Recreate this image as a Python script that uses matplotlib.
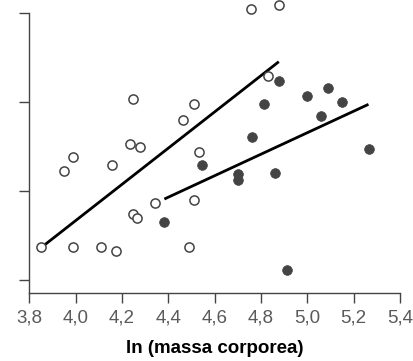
import matplotlib.pyplot as plt

plt.rcParams['font.family'] = ['Liberation Sans', 'DejaVu Sans']

# open circles
open_x = [3.849, 3.950, 3.989, 3.989, 4.110, 4.159, 4.173, 4.234, 4.247, 4.248,
          4.264, 4.277, 4.343, 4.465, 4.489, 4.510, 4.510, 4.533, 4.755, 4.830, 4.877]
open_y = [0.374, 1.225, 1.385, 0.374, 0.374, 1.289, 0.326, 1.528, 0.745, 2.030,
          0.700, 1.498, 0.865, 1.798, 0.374, 1.981, 0.902, 1.442, 3.042, 2.292, 3.093]

# filled circles
fill_x = [4.382, 4.546, 4.702, 4.702, 4.763, 4.814, 4.861, 4.877, 4.914, 4.998,
          5.059, 5.090, 5.149, 5.266]
fill_y = [0.655, 1.287, 1.191, 1.124, 1.610, 1.981, 1.199, 2.239, 0.112, 2.067,
          1.843, 2.154, 2.003, 1.472]

# regression lines (end points)
line_open_x = [3.849, 4.877]
line_open_y = [0.36, 2.453]
line_fill_x = [4.383, 5.264]
line_fill_y = [0.910, 1.974]

x_ticks = [3.8, 4.0, 4.2, 4.4, 4.6, 4.8, 5.0, 5.2, 5.4]
x_labels = [f'{v:.1f}'.replace('.', ',') for v in x_ticks]
y_ticks = [0, 1, 2, 3]

fig = plt.figure(figsize=(4.13, 3.61), dpi=100)
ax = fig.add_axes([0.0709, 0.1875, 0.8976, 0.7765])

ax.plot(line_open_x, line_open_y, color='black', lw=2.0, solid_capstyle='butt', zorder=2)
ax.plot(line_fill_x, line_fill_y, color='black', lw=2.0, solid_capstyle='butt', zorder=2)
ax.plot(open_x, open_y, 'o', ms=6.6, mfc='white', mec='#444444', mew=1.1,
        clip_on=False, zorder=3)
ax.plot(fill_x, fill_y, 'o', ms=7, mfc='#444444', mec='#444444', mew=0.5,
        clip_on=False, zorder=3)

ax.set_xlim(3.8, 5.4)
ax.set_ylim(-0.149, 3.0)
ax.set_xticks(x_ticks)
ax.set_xticklabels(x_labels)
ax.set_yticks(y_ticks)
ax.set_yticklabels([])

for s in ['top', 'right']:
    ax.spines[s].set_visible(False)
for s in ['left', 'bottom']:
    ax.spines[s].set_color('#444444')
    ax.spines[s].set_linewidth(1.0)

ax.tick_params(axis='both', direction='out', length=7.5, width=1.0, color='#444444')
ax.tick_params(axis='x', labelsize=13.5, labelcolor='#5a5a5a', pad=4)

ax.set_xlabel('ln (massa corporea)', fontsize=13.5, fontweight='bold', labelpad=10)

fig.savefig('out.png', dpi=100)
